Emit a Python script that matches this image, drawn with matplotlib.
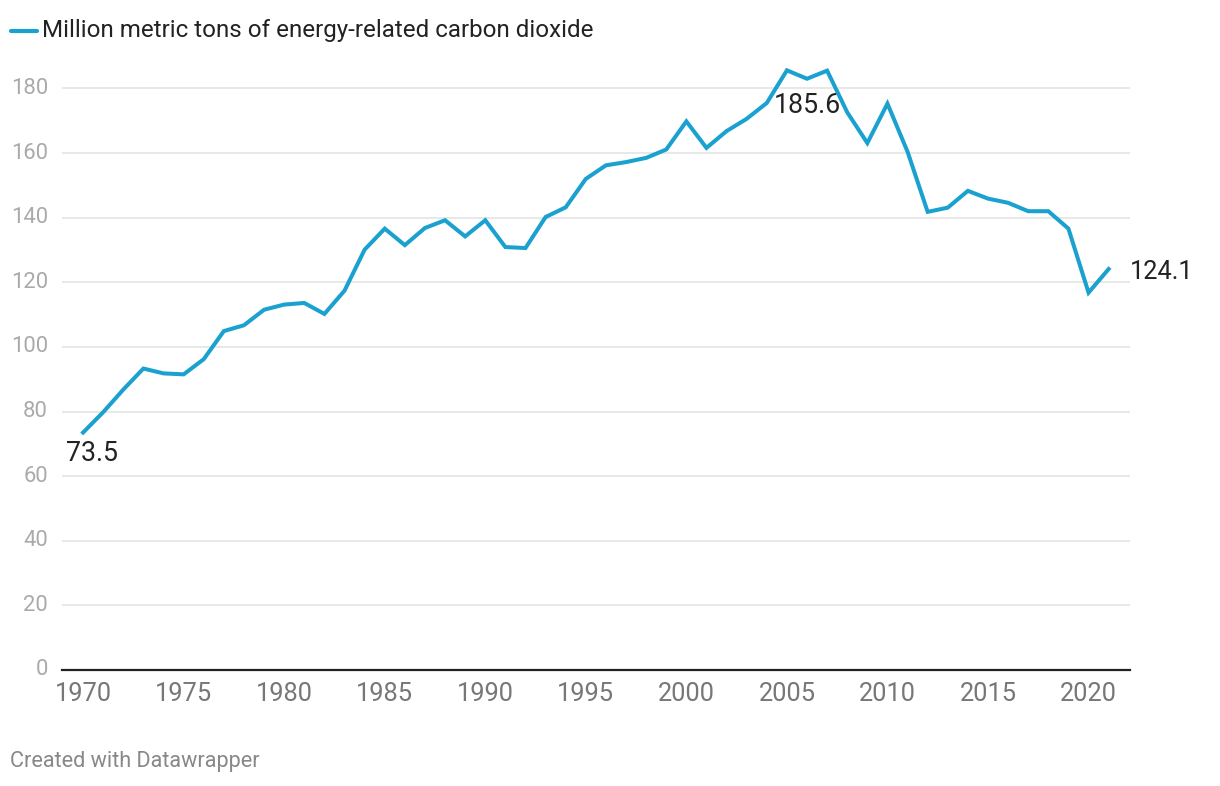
import matplotlib.pyplot as plt

plt.rcParams['font.family'] = ['Roboto', 'DejaVu Sans']

years = list(range(1970, 2022))
co2 = [73.5, 79.8, 86.8, 93.3, 91.8, 91.5, 96.2, 104.9, 106.7, 111.5,
       113.1, 113.6, 110.2, 117.4, 130.1, 136.6, 131.5, 136.8, 139.2, 134.2,
       139.2, 130.9, 130.6, 140.2, 143.2, 152.0, 156.2, 157.2, 158.5, 161.1,
       169.8, 161.6, 166.8, 170.6, 175.5, 185.6, 183.0, 185.5, 172.6, 163.1,
       175.3, 160.4, 141.8, 143.1, 148.3, 145.9, 144.6, 142.0, 142.0, 136.6,
       116.8, 124.1]
y_ticks = [0, 20, 40, 60, 80, 100, 120, 140, 160, 180]
x_ticks = [1970, 1975, 1980, 1985, 1990, 1995, 2000, 2005, 2010, 2015, 2020]
series_name = "Million metric tons of energy-related carbon dioxide"

blue = '#1aa1cf'

fig = plt.figure(figsize=(12.2, 7.86), dpi=100)
ax = fig.add_axes([0.0508, 0.1476, 0.8754, 0.781])

ax.plot(years, co2, color=blue, lw=2.9, solid_joinstyle='miter', zorder=3)

ax.set_xlim(1968.95, 2022.06)
ax.set_ylim(0, 190)
ax.set_yticks(y_ticks)
ax.set_xticks(x_ticks)
ax.grid(axis='y', color='#e2e2e2', lw=1.1, zorder=0)
for s in ['top', 'right', 'left']:
    ax.spines[s].set_visible(False)
ax.spines['bottom'].set_color('#222222')
ax.spines['bottom'].set_linewidth(1.6)
ax.tick_params(axis='y', length=0, pad=10, labelsize=15.8, labelcolor='#aaaaaa')
ax.tick_params(axis='x', length=0, pad=9, labelsize=18.3, labelcolor='#777777')
for lab in ax.get_yticklabels():
    lab.set_verticalalignment('center')

# value labels
i_max = co2.index(max(co2))
ax.annotate(f"{co2[0]:.1f}", (years[0], co2[0]), xytext=(-12, -15),
            textcoords='offset points', fontsize=19.3, color='#222222',
            ha='left', va='center')
ax.annotate(f"{co2[i_max]:.1f}", (years[i_max], co2[i_max]), xytext=(15, -25),
            textcoords='offset points', fontsize=19.3, color='#222222',
            ha='center', va='center')
ax.annotate(f"{co2[-1]:.1f}", (years[-1], co2[-1]), xytext=(15, -2),
            textcoords='offset points', fontsize=18.3, color='#222222',
            ha='left', va='center')

# legend
fig.lines.append(plt.Line2D([11 / 1220, 37 / 1220], [1 - 31 / 786, 1 - 31 / 786],
                            transform=fig.transFigure, color=blue, lw=3,
                            solid_capstyle='round'))
fig.text(42 / 1220, 1 - 31 / 786, series_name, fontsize=17.4, color='#222222',
         ha='left', va='center')

fig.text(10 / 1220, 1 - 762 / 786, "Created with Datawrapper", fontsize=15.6,
         color='#888888', ha='left', va='center')

fig.savefig('out.png', dpi=100, facecolor='white')
